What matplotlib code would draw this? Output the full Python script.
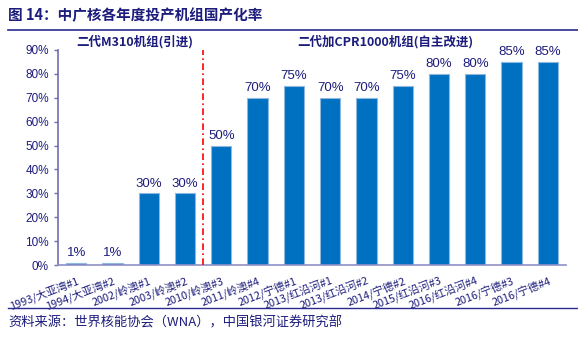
import matplotlib.pyplot as plt
import matplotlib.lines as mlines

plt.rcParams['font.family'] = ['Noto Sans CJK SC', 'DejaVu Sans']

categories = ["1993/大亚湾#1", "1994/大亚湾#2", "2002/岭澳#1", "2003/岭澳#2",
              "2010/岭澳#3", "2011/岭澳#4", "2012/宁德#1", "2013/红沿河#1",
              "2013/红沿河#2", "2014/宁德#2", "2015/红沿河#3", "2016/红沿河#4",
              "2016/宁德#3", "2016/宁德#4"]
values = [1, 1, 30, 30, 50, 70, 75, 70, 70, 75, 80, 80, 85, 85]
yticks = [0, 10, 20, 30, 40, 50, 60, 70, 80, 90]

navy = '#1C1C7C'
bar_color = '#0070C0'

fig = plt.figure(figsize=(5.78, 3.51), dpi=100)
ax = fig.add_axes([58/578, 1-265/351, (566-58)/578, (265-50)/351])

x = list(range(len(categories)))
ax.bar(x, values, width=0.56, color=bar_color, edgecolor='#8FB8E0', linewidth=0.8, zorder=2)
for xi, v in zip(x, values):
    ax.text(xi, v + 1.5, f"{v}%", ha='center', va='bottom', fontsize=9.5,
            color=navy, family=['Liberation Sans', 'DejaVu Sans'])

ax.set_xlim(-0.5, len(categories) - 0.5)
ax.set_ylim(0, 90)
ax.set_yticks(yticks)
ax.set_yticklabels([f"{t}%" for t in yticks], fontsize=8.5, color=navy,
                   family=['Liberation Sans', 'DejaVu Sans'])
ax.set_xticks(x)
ax.set_xticklabels(categories, rotation=21, ha='right', rotation_mode='anchor',
                   fontsize=7.8, color=navy)
ax.tick_params(axis='x', length=0, pad=7)
ax.tick_params(axis='y', length=3, color='#7070B0', width=1)
for s in ['top', 'right']:
    ax.spines[s].set_visible(False)
ax.spines['left'].set_color('#7070B0')
ax.spines['bottom'].set_color('#9090C8')
ax.spines['left'].set_linewidth(1.2)
ax.spines['bottom'].set_linewidth(1.2)

ax.axvline(3.5, color='red', linestyle=(0, (4, 2, 1, 2)), linewidth=1.2, zorder=3)

fig.text(135/578, 1-42/351, "二代M310机组(引进)", ha='center', va='center',
         fontsize=9, fontweight='bold', color=navy)
fig.text(385/578, 1-42/351, "二代加CPR1000机组(自主改进)", ha='center', va='center',
         fontsize=9, fontweight='bold', color=navy)

fig.text(8/578, 1-15/351, "图 14：中广核各年度投产机组国产化率", ha='left', va='center',
         fontsize=10.5, fontweight='bold', color=navy)
fig.add_artist(mlines.Line2D([8/578, 578/578], [1-30/351, 1-30/351],
                             color='#2A2A90', linewidth=1.2))
fig.add_artist(mlines.Line2D([8/578, 578/578], [1-308/351, 1-308/351],
                             color='#2A2A90', linewidth=1.0))
fig.text(8/578, 1-323/351, "资料来源：世界核能协会（WNA），中国银河证券研究部", ha='left',
         va='center', fontsize=9.5, style='italic', color=navy)

fig.savefig('out.png', dpi=100)
